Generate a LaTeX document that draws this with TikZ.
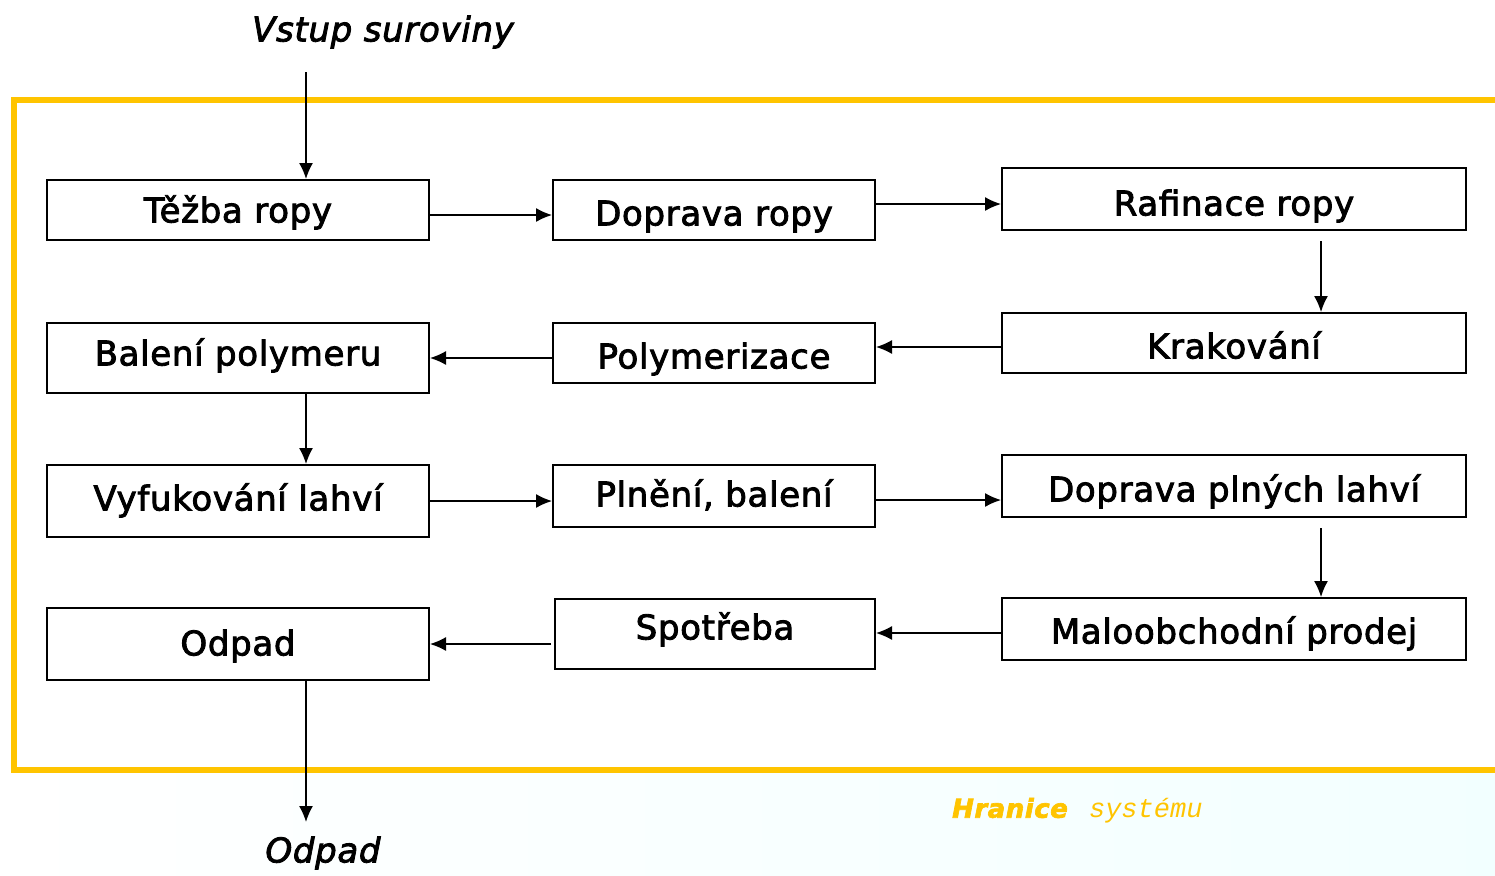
\documentclass[tikz,border=0pt]{standalone}
\usepackage{fontspec}
\setmainfont{DejaVu Sans}[FakeBold=2.5, LetterSpace=2]
\newfontfamily\strojfont{Liberation Mono}
\usetikzlibrary{arrows.meta}
\definecolor{hranice}{RGB}{255,196,0}

\tikzset{
  krok/.style={draw, line width=1pt, inner sep=0pt, text height=15pt, text depth=2.6pt,
    font=\fontsize{17}{20}\selectfont},
  sip/.style={-{Latex[length=8pt,width=7pt]}, line width=0.7pt},
  popis/.style={font=\fontsize{17}{20}\selectfont\itshape},
}

\begin{document}
\begin{tikzpicture}[x=0.5pt,y=-0.5pt]
\useasboundingbox (0,0) rectangle (1495,875);

% jemne pozadi dole
\shade[left color=white, right color=cyan!5] (0,772) rectangle (1495,875);

% hranice systemu
\draw[hranice, line width=3pt] (1495,100) -- (14,100) -- (14,770) -- (1495,770);
\node[font=\fontsize{13}{16}\selectfont\bfseries\itshape, text=hranice] (hr) at (1010,808) {Hranice};
\node[font=\fontsize{13.5}{16}\selectfont\strojfont\itshape, text=hranice, anchor=west] (sy) at (1082,811) {systému};

% kroky
\node[krok, minimum width=191pt, minimum height=30pt] (tezba) at (238,210) {Těžba ropy};
\node[krok, minimum width=161pt, minimum height=30pt, text height=18pt] (doprava) at (714,210) {Doprava ropy};
\node[krok, minimum width=232pt, minimum height=31pt, text height=19pt] (rafinace) at (1234,199) {Rafinace ropy};

\node[krok, minimum width=232pt, minimum height=30pt, text height=18pt] (krak) at (1234,343) {Krakování};
\node[krok, minimum width=161pt, minimum height=30pt, text height=18pt] (poly) at (714,353) {Polymerizace};
\node[krok, minimum width=191pt, minimum height=35pt, text height=10pt] (baleni) at (238,358) {Balení polymeru};

\node[krok, minimum width=191pt, minimum height=36pt, text height=12pt] (vyfuk) at (238,501) {Vyfukování lahví};
\node[krok, minimum width=161pt, minimum height=31pt, text height=13pt] (plneni) at (714,496) {Plnění, balení};
\node[krok, minimum width=232pt, minimum height=31pt, text height=18pt] (doprava2) at (1234,486) {Doprava plných lahví};

\node[krok, minimum width=191pt, minimum height=36pt, text height=14pt] (odpad) at (238,644) {Odpad};
\node[krok, minimum width=160pt, minimum height=35pt, text height=8pt] (spotreba) at (715,634) {Spotřeba};
\node[krok, minimum width=232pt, minimum height=31pt, text height=17pt] (prodej) at (1234,629) {Maloobchodní prodej};

% vstup a vystup
\node[popis] (vstup) at (383,32) {Vstup suroviny};
\node[popis] (vystup) at (323,853) {Odpad};
\coordinate (vstupkon) at (306,72);
\coordinate (vystupkon) at (306,822);

% sipky
\draw[sip] (vstupkon) -- (vstupkon |- tezba.north);
\draw[sip] ([yshift=-2.5pt]tezba.east) -- ([yshift=-2.5pt]tezba.east -| doprava.west);
\draw[sip] ([yshift=3pt]doprava.east) -- ([yshift=3pt]doprava.east -| rafinace.west);
\draw[sip] ([xshift=43.5pt,yshift=-5pt]rafinace.south) -- ([xshift=43.5pt]rafinace.south |- krak.north);
\draw[sip] ([yshift=-2pt]krak.west) -- ([yshift=-2pt]krak.west -| poly.east);
\draw[sip] ([yshift=-2.5pt]poly.west) -- ([yshift=-2.5pt]poly.west -| baleni.east);
\draw[sip] (baleni.south -| vstupkon) -- (vyfuk.north -| vstupkon);
\draw[sip] (vyfuk.east) -- (vyfuk.east -| plneni.west);
\draw[sip] ([yshift=-2pt]plneni.east) -- ([yshift=-2pt]plneni.east -| doprava2.west);
\draw[sip] ([xshift=43.5pt,yshift=-5pt]doprava2.south) -- ([xshift=43.5pt]doprava2.south |- prodej.north);
\draw[sip] ([yshift=-2pt]prodej.west) -- ([yshift=-2pt]prodej.west -| spotreba.east);
\draw[sip] ([xshift=-1.5pt,yshift=-5pt]spotreba.west) -- ([yshift=-5pt]spotreba.west -| odpad.east);
\draw[sip] (odpad.south -| vystupkon) -- (vystupkon);
\end{tikzpicture}
\end{document}
